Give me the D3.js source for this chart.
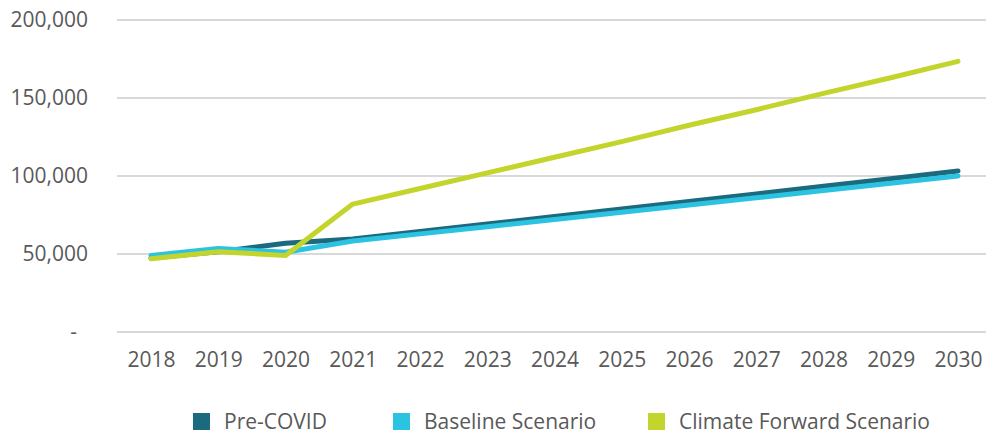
<!DOCTYPE html>
<html><head><meta charset="utf-8">
<script src="https://cdn.jsdelivr.net/npm/d3@7"></script>
<style>
body{margin:0;background:#fff;}
svg{display:block;font-family:"Open Sans",sans-serif;}
</style></head>
<body><svg id="c" width="988" height="435"></svg>
<script>
const years = ["2018","2019","2020","2021","2022","2023","2024","2025","2026","2027","2028","2029","2030"];
const preCovid = [47500, 51500, 56900, 59600, 64400, 69200, 74000, 78800, 83700, 88500, 93400, 98300, 103200];
const baseline = [49000, 53600, 51100, 58300, 62900, 67500, 72100, 76700, 81400, 86000, 90700, 95300, 100000];
const climateForward = [47000, 51500, 49000, 82000, 92000, 102000, 112000, 122000, 132500, 142500, 153000, 163000, 173500];
const yTicks = [0, 50000, 100000, 150000, 200000];
const yTickLabels = ["-", "50,000", "100,000", "150,000", "200,000"];
const seriesNames = ["Pre-COVID", "Baseline Scenario", "Climate Forward Scenario"];
const colors = ["#1b6a7d", "#2cc3e3", "#c3d52c"];

const svg = d3.select("#c");
const x = d3.scalePoint().domain(years).range([151, 958]);
const y = d3.scaleLinear().domain([0, 200000]).range([332, 20]);
const gridL = 117, gridR = 986;

// gridlines
svg.append("g").selectAll("line").data(yTicks).join("line")
  .attr("x1", gridL).attr("x2", gridR)
  .attr("y1", d => y(d)).attr("y2", d => y(d))
  .attr("stroke", "#d9d9d9").attr("stroke-width", 1.8);

// y axis labels
const yAxis = d3.axisLeft(y).tickValues(yTicks).tickSize(0)
  .tickFormat((d, i) => yTickLabels[i]);
const ya = svg.append("g").attr("transform", "translate(88,0)").call(yAxis);
ya.select(".domain").remove();
ya.selectAll("text").attr("font-size", 21).attr("fill", "#595959")
  .attr("font-family", "Open Sans, sans-serif")
  .attr("x", (d, i) => i === 0 ? -11 : 0);

// x axis labels
const xAxis = d3.axisBottom(x).tickSize(0);
const xa = svg.append("g").attr("transform", "translate(0,352)").call(xAxis);
xa.select(".domain").remove();
xa.selectAll("text").attr("font-size", 21).attr("fill", "#595959")
  .attr("font-family", "Open Sans, sans-serif").attr("dy", "0.71em").attr("y", 0);

// lines
const data = [preCovid, baseline, climateForward];
const line = d3.line().x((d, i) => x(years[i])).y(d => y(d));
svg.append("g").selectAll("path").data(data).join("path")
  .attr("d", line).attr("fill", "none")
  .attr("stroke", (d, i) => colors[i]).attr("stroke-width", 5)
  .attr("stroke-linecap", "round").attr("stroke-linejoin", "round");

// legend
const legX = [193, 393, 648];
const lg = svg.append("g").selectAll("g").data(seriesNames).join("g")
  .attr("transform", (d, i) => `translate(${legX[i]},0)`);
lg.append("rect").attr("x", 0).attr("y", 413).attr("width", 17).attr("height", 17)
  .attr("fill", (d, i) => colors[i]);
lg.append("text").attr("x", 31).attr("y", 429).attr("font-size", 21)
  .attr("fill", "#595959").text(d => d);
</script></body></html>
